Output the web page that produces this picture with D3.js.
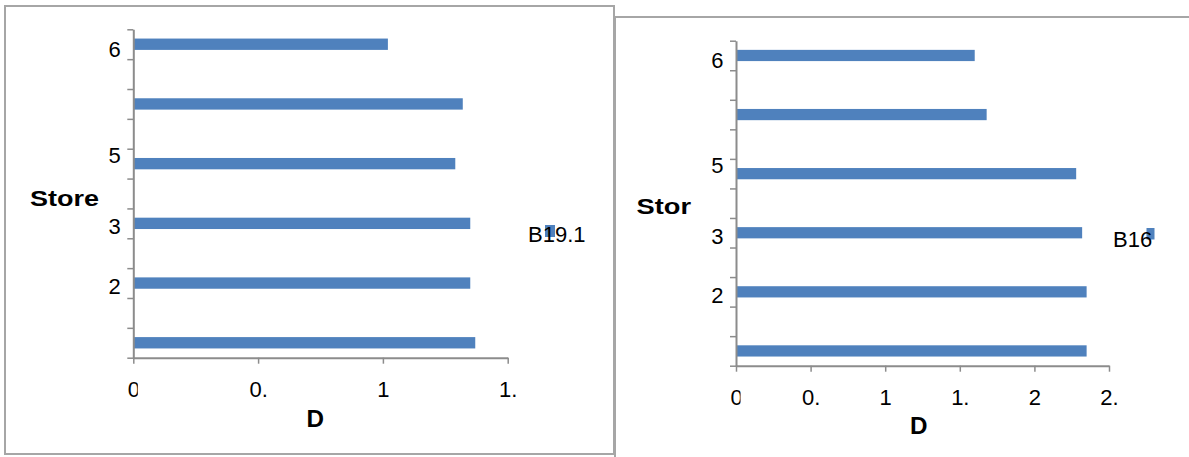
<!DOCTYPE html>
<html>
<head>
<meta charset="utf-8">
<script src="https://cdn.jsdelivr.net/npm/d3@7"></script>
<style>
  html, body { margin: 0; padding: 0; background: #fff; }
  svg { display: block; }
  text { font-family: "Liberation Sans", Arial, sans-serif; fill: #000; }
</style>
</head>
<body>
<svg id="chart" width="1189" height="457"></svg>
<script>
// Store rows, listed top to bottom (truncated labels as they appear on the axis)
const stores = ["6", "", "5", "3", "2", ""];
// Series values per store, same order
const valuesB191 = [1.02, 1.32, 1.29, 1.35, 1.35, 1.37];
const valuesB16  = [1.60, 1.68, 2.28, 2.32, 2.35, 2.35];
// X-axis tick values and their (truncated) labels
const tickValuesLeft  = [0, 0.5, 1, 1.5];
const tickLabelsLeft  = ["0", "0.", "1", "1."];
const tickValuesRight = [0, 0.5, 1, 1.5, 2, 2.5];
const tickLabelsRight = ["0", "0.", "1", "1.", "2", "2."];
// Series names shown in the legends
const seriesNames = ["B19.1", "B16"];

const svg = d3.select("#chart");
const barColor = "#4f81bd";
const axisColor = "#8c8c8c";
const frameColor = "#a6a6a6";

// Frames of the two chart objects
svg.append("rect")
  .attr("x", 5).attr("y", 6).attr("width", 609).attr("height", 448)
  .attr("fill", "none").attr("stroke", frameColor).attr("stroke-width", 2);
svg.append("path")
  .attr("d", "M615,457V17H1189")
  .attr("fill", "none").attr("stroke", frameColor).attr("stroke-width", 2);

const panels = [
  {
    id: "left", values: valuesB191, name: seriesNames[0],
    xMax: 1.5, tickValues: tickValuesLeft, tickLabels: tickLabelsLeft,
    plot: { left: 133.3, right: 507.7, top: 29.3, bottom: 357.7 },
    yTitle: { text: "Store", x: 30, y: 206, len: 69 },
    xTitle: { x: 306.5, y: 427 },
    legend: { tx: 528, ty: 241.5, sx: 545, sy: 225, sw: 10, sh: 12 }
  },
  {
    id: "right", values: valuesB16, name: seriesNames[1],
    xMax: 2.5, tickValues: tickValuesRight, tickLabels: tickLabelsRight,
    plot: { left: 736, right: 1109, top: 40.7, bottom: 365.7 },
    yTitle: { text: "Stor", x: 636.5, y: 214, len: 54.5 },
    xTitle: { x: 910, y: 434 },
    legend: { tx: 1113, ty: 247, sx: 1146.5, sy: 228, sw: 8, sh: 11.5 }
  }
];

// Small vertical nudges for category labels (text layout of the axis)
const labelNudge = { "6": 5, "5": -9, "3": 3, "2": 3 };

panels.forEach(p => {
  const g = svg.append("g").attr("class", "panel-" + p.id);
  const nSlots = stores.length * 2 - 1;

  const x = d3.scaleLinear().domain([0, p.xMax]).range([p.plot.left, p.plot.right]);
  // One slot per store row, with an empty slot between consecutive rows
  const y = d3.scaleLinear().domain([0, nSlots]).range([p.plot.top, p.plot.bottom]);
  const slotH = y(1) - y(0);
  const barH = slotH * 0.38;

  // Bars
  g.selectAll("rect.bar")
    .data(p.values)
    .join("rect")
    .attr("class", "bar")
    .attr("x", x(0))
    .attr("y", (d, i) => y(2 * i + 0.5) - barH / 2)
    .attr("width", d => x(d) - x(0))
    .attr("height", barH)
    .attr("fill", barColor);

  // Y axis: tick marks at every slot boundary
  const yAxis = g.append("g")
    .attr("transform", `translate(${x(0)},0)`)
    .call(d3.axisLeft(y).tickValues(d3.range(nSlots + 1)).tickSize(6).tickFormat("").tickSizeOuter(0));
  yAxis.select(".domain").attr("stroke", axisColor).attr("stroke-width", 2);
  yAxis.selectAll(".tick line").attr("stroke", axisColor).attr("stroke-width", 1.5);

  // X axis
  const xAxis = g.append("g")
    .attr("transform", `translate(0,${p.plot.bottom})`)
    .call(d3.axisBottom(x).tickValues(p.tickValues).tickSize(6).tickSizeOuter(0)
      .tickPadding(18).tickFormat((d, i) => p.tickLabels[i]));
  xAxis.select(".domain").attr("stroke", axisColor).attr("stroke-width", 2);
  xAxis.selectAll(".tick line").attr("stroke", axisColor).attr("stroke-width", 1.5);
  xAxis.selectAll(".tick text")
    .attr("font-size", 22)
    .attr("font-family", "'Liberation Sans', Arial, sans-serif")
    .attr("fill", "#000");

  // The first x label is cut at its right side
  const clipId = "clip-zero-" + p.id;
  svg.append("defs").append("clipPath").attr("id", clipId)
    .append("rect").attr("x", -10).attr("y", 0).attr("width", 14).attr("height", 40);
  xAxis.select(".tick text").attr("clip-path", `url(#${clipId})`);

  // Category labels beside the bar rows
  g.selectAll("text.cat")
    .data(stores)
    .join("text")
    .attr("class", "cat")
    .attr("x", x(0) - 12.5)
    .attr("y", (d, i) => y(2 * i + 0.5) + (labelNudge[d] || 0))
    .attr("dy", "0.36em")
    .attr("text-anchor", "end")
    .attr("font-size", 22)
    .text(d => d);

  // Axis titles
  g.append("text")
    .attr("x", p.yTitle.x).attr("y", p.yTitle.y)
    .attr("font-size", 22).attr("font-weight", "bold")
    .attr("textLength", p.yTitle.len).attr("lengthAdjust", "spacingAndGlyphs")
    .text(p.yTitle.text);
  g.append("text")
    .attr("x", p.xTitle.x).attr("y", p.xTitle.y)
    .attr("font-size", 24).attr("font-weight", "bold")
    .attr("textLength", 17.5).attr("lengthAdjust", "spacingAndGlyphs")
    .text("D");

  // Legend: swatch under the series name
  g.append("rect")
    .attr("x", p.legend.sx).attr("y", p.legend.sy)
    .attr("width", p.legend.sw).attr("height", p.legend.sh)
    .attr("fill", barColor);
  g.append("text")
    .attr("x", p.legend.tx).attr("y", p.legend.ty)
    .attr("font-size", 22)
    .text(p.name);
});
</script>
</body>
</html>
